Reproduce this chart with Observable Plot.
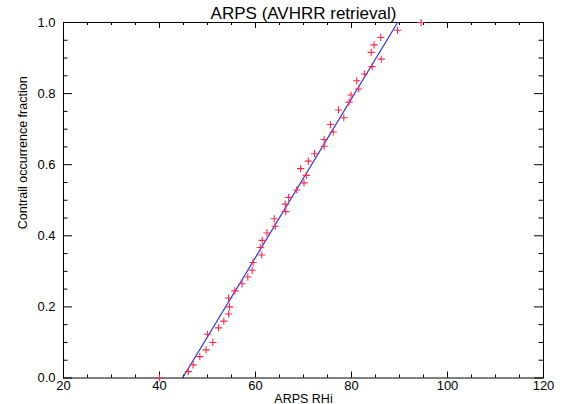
<!DOCTYPE html>
<html>
<head>
<meta charset="utf-8">
<script src="https://cdn.jsdelivr.net/npm/d3@7"></script>
<script src="https://cdn.jsdelivr.net/npm/@observablehq/plot@0.6"></script>
<style>
  html, body { margin: 0; padding: 0; background: #fff; }
  #chart svg { display: block; }
</style>
</head>
<body>
<div id="chart"></div>
<script>
// ---- data ----
const titleText = "ARPS (AVHRR retrieval)";
const xLabel = "ARPS RHi";
const yLabel = "Contrail occurrence fraction";

const rhi = [40.0, 46.0, 47.0, 48.4, 49.7, 51.1, 50.0, 52.3, 53.4, 54.4,
             54.6, 54.4, 55.7, 57.2, 58.4, 59.3, 59.5, 61.3, 61.0, 61.4,
             62.4, 64.1, 63.9, 66.3, 66.2, 66.9, 68.6, 70.1, 70.6, 69.4,
             71.0, 72.3, 74.3, 74.3, 76.2, 75.6, 78.4, 77.3, 79.5, 79.9,
             81.5, 81.1, 82.7, 84.3, 86.2, 84.1, 84.7, 86.1, 89.6, 94.5];
const frac = [0.000, 0.018, 0.037, 0.060, 0.079, 0.100, 0.123, 0.141, 0.160, 0.180,
              0.200, 0.225, 0.245, 0.265, 0.284, 0.303, 0.325, 0.346, 0.367, 0.387,
              0.408, 0.427, 0.448, 0.468, 0.489, 0.508, 0.529, 0.549, 0.570, 0.589,
              0.610, 0.631, 0.652, 0.671, 0.692, 0.713, 0.732, 0.754, 0.776, 0.796,
              0.813, 0.836, 0.855, 0.876, 0.897, 0.916, 0.937, 0.958, 0.978, 1.000];

// fitted line
const fitX = [44.8, 89.6];
const fitY = [0.0, 1.0];

// ticks
const xMajor = [20, 40, 60, 80, 100, 120];
const xMinor = [25, 30, 35, 45, 50, 55, 65, 70, 75, 85, 90, 95, 105, 110, 115];
const yMajor = [0.0, 0.2, 0.4, 0.6, 0.8, 1.0];
const yMinor = [0.05, 0.1, 0.15, 0.25, 0.3, 0.35, 0.45, 0.5, 0.55, 0.65, 0.7, 0.75, 0.85, 0.9, 0.95];

// ---- build ----
const points = rhi.map((x, i) => ({x, y: frac[i]}));
const fit = fitX.map((x, i) => ({x, y: fitY[i]}));

const W = 570, H = 404;
const mL = 63, mR = 27, mT = 22, mB = 26.5;
const innerW = W - mL - mR, innerH = H - mT - mB;

const thinPlus = {
  draw(context, size) {
    const r = Math.sqrt(size / Math.PI);
    context.moveTo(-r, 0); context.lineTo(r, 0);
    context.moveTo(0, -r); context.lineTo(0, r);
  }
};

const xMajLen = 6, xMinLen = 3, yMajLen = 9, yMinLen = 4.5;

const chart = Plot.plot({
  width: W,
  height: H,
  marginLeft: mL,
  marginRight: mR,
  marginTop: mT,
  marginBottom: mB,
  style: {fontFamily: "'Liberation Sans', 'DejaVu Sans', sans-serif", fontSize: "13px", color: "black", background: "white"},
  x: {domain: [20, 120]},
  y: {domain: [0, 1]},
  marks: [
    // tick labels
    Plot.axisX(xMajor, {tickSize: 0, tickPadding: 3, tickFormat: d => String(d), fontSize: 13, label: null}),
    Plot.axisY(yMajor, {tickSize: 0, tickPadding: 8, tickFormat: d3.format(".1f"), fontSize: 13, label: null}),
    // inward ticks: bottom / top
    Plot.tickX(xMajor, {x: d => d, insetTop: innerH - xMajLen, stroke: "black"}),
    Plot.tickX(xMinor, {x: d => d, insetTop: innerH - xMinLen, stroke: "black"}),
    Plot.tickX(xMajor, {x: d => d, insetBottom: innerH - xMajLen, stroke: "black"}),
    Plot.tickX(xMinor, {x: d => d, insetBottom: innerH - xMinLen, stroke: "black"}),
    // inward ticks: left / right
    Plot.tickY(yMajor, {y: d => d, insetRight: innerW - yMajLen, stroke: "black"}),
    Plot.tickY(yMinor, {y: d => d, insetRight: innerW - yMinLen, stroke: "black"}),
    Plot.tickY(yMajor, {y: d => d, insetLeft: innerW - yMajLen, stroke: "black"}),
    Plot.tickY(yMinor, {y: d => d, insetLeft: innerW - yMinLen, stroke: "black"}),
    Plot.frame({stroke: "black", strokeWidth: 1}),
    // data
    Plot.line(fit, {x: "x", y: "y", stroke: "#2233ff", strokeWidth: 1.2}),
    Plot.dot(points, {x: "x", y: "y", symbol: thinPlus, r: 3.6, stroke: "#ff2a4a", strokeWidth: 1.1, fill: "none"}),
    // title and axis labels
    Plot.text([titleText], {text: d => d, frameAnchor: "top", lineAnchor: "bottom", dy: -4, fontSize: 17}),
    Plot.text([xLabel], {text: d => d, frameAnchor: "bottom", lineAnchor: "bottom", dy: 24.5, fontSize: 12.5}),
    Plot.text([yLabel], {text: d => d, frameAnchor: "left", rotate: -90, dx: -41, dy: 29, fontSize: 12.5})
  ]
});

document.getElementById("chart").appendChild(chart);
</script>
</body>
</html>
